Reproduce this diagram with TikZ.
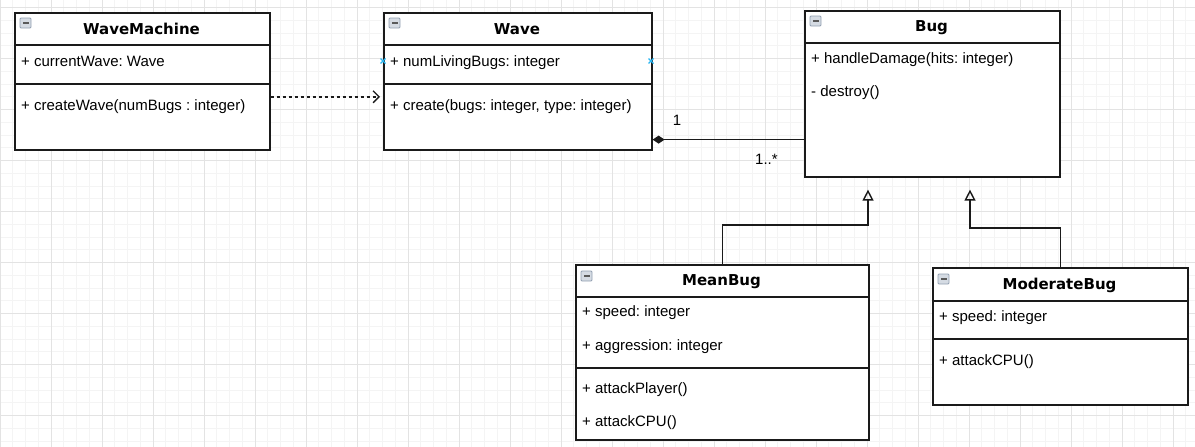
\documentclass[tikz,border=0pt]{standalone}
\usepackage{fontspec}
\setmainfont{Liberation Sans}
\newfontfamily\titlefont{DejaVu Sans}
\usetikzlibrary{arrows.meta}
\definecolor{gridmin}{HTML}{F4F4F4}
\definecolor{gridmaj}{HTML}{E3E3E3}
\definecolor{ink}{HTML}{1A1A1A}
\definecolor{hoverblue}{HTML}{29B6F2}
\definecolor{iconfill}{HTML}{D5DBE3}
\definecolor{iconline}{HTML}{93A0B2}
\definecolor{iconbar}{HTML}{5A5A5A}
\tikzset{
  classbox/.style={draw=ink, line width=1.6pt, fill=white, inner sep=0pt, anchor=north west},
  titletext/.style={font=\titlefont\bfseries\fontsize{15}{18}\selectfont, inner sep=0pt, anchor=base},
  membertext/.style={font=\fontsize{15}{18}\selectfont, inner sep=0pt, anchor=base west},
  sepline/.style={draw=ink, line width=1.6pt},
  conn/.style={draw=ink, line width=1.5pt},
  gridminor/.style={draw=gridmin, line width=1pt},
  gridmajor/.style={draw=gridmaj, line width=1pt},
  hover/.style={draw=hoverblue, line width=1.4pt},
  umlicon/.pic={
    \draw[iconline, fill=iconfill, line width=0.8pt, rounded corners=1pt] (0,0) rectangle (11,10);
    \fill[iconbar] (2.5,4.2) rectangle (8.5,5.9);
  }
}
\begin{document}
\frenchspacing
\begin{tikzpicture}[x=1pt,y=-1pt]
\useasboundingbox (0,0) rectangle (1195,447);
\fill[white] (0,0) rectangle (1195,447);
% grid
\foreach \i in {0,...,93} {\draw[gridminor] (\i*12.75,0) -- (\i*12.75,447);}
\foreach \j in {0,...,34} {\draw[gridminor] (0,7.7+\j*12.75) -- (1195,7.7+\j*12.75);}
\foreach \i in {0,...,23} {\draw[gridmajor] (\i*51,0) -- (\i*51,447);}
\foreach \j in {0,...,8} {\draw[gridmajor] (0,7.7+\j*51) -- (1195,7.7+\j*51);}

% WaveMachine
\node[classbox, minimum width=255pt, minimum height=137pt] (wm) at (14,12) {};
\draw[sepline] (14,45) -- (269,45);
\draw[sepline] (14,84) -- (269,84);
\pic at (20,18) {umlicon};
\node[titletext] (wmtitle) at (141.5,34.3) {WaveMachine};
\node[membertext] (wmattr) at (21,66.5) {+ currentWave: Wave};
\node[membertext] (wmop) at (21,110.5) {+ createWave(numBugs : integer)};

% Wave
\node[classbox, minimum width=268pt, minimum height=137pt] (wave) at (383,12) {};
\draw[sepline] (383,45) -- (651,45);
\draw[sepline] (383,84) -- (651,84);
\pic at (389,18) {umlicon};
\node[titletext] (wavetitle) at (517,34.3) {Wave};
\node[membertext] (waveattr) at (390,66.5) {+ numLivingBugs: integer};
\node[membertext] (waveop) at (390,110.5) {+ create(bugs: integer, type: integer)};
\draw[hover] (380.5,58.5) -- (385.5,63.5) (380.5,63.5) -- (385.5,58.5);
\draw[hover] (648.5,58.5) -- (653.5,63.5) (648.5,63.5) -- (653.5,58.5);

% Bug
\node[classbox, minimum width=255pt, minimum height=166pt] (bug) at (804,10) {};
\draw[sepline] (804,43) -- (1059,43);
\pic at (810,16) {umlicon};
\node[titletext] (bugtitle) at (931.5,31) {Bug};
\node[membertext] (bugop1) at (811,63.5) {+ handleDamage(hits: integer)};
\node[membertext] (bugop2) at (811,96.5) {- destroy()};

% MeanBug
\node[classbox, minimum width=293pt, minimum height=175pt] (mean) at (575,264) {};
\draw[sepline] (575,297) -- (868,297);
\draw[sepline] (575,368) -- (868,368);
\pic at (581,271) {umlicon};
\node[titletext] (meantitle) at (721.5,285.3) {MeanBug};
\node[membertext] (meanattr1) at (582,316.7) {+ speed: integer};
\node[membertext] (meanattr2) at (582,350) {+ aggression: integer};
\node[membertext] (meanop1) at (582,393.3) {+ attackPlayer()};
\node[membertext] (meanop2) at (582,426) {+ attackCPU()};

% ModerateBug
\node[classbox, minimum width=255pt, minimum height=137pt] (mod) at (932,267) {};
\draw[sepline] (932,301) -- (1187,301);
\draw[sepline] (932,339) -- (1187,339);
\pic at (938,274) {umlicon};
\node[titletext] (modtitle) at (1059.5,289.3) {ModerateBug};
\node[membertext] (modattr) at (939,321) {+ speed: integer};
\node[membertext] (modop) at (939,365) {+ attackCPU()};

% dependency (dashed)
\draw[conn, dash pattern=on 3pt off 3pt, -{Straight Barb[length=6pt,width=12pt,line width=1.3pt]}, shorten >=3pt]
  ([yshift=-15.5pt]wm.east) -- ([yshift=-15.5pt]wm.east -| wave.west);

% composition
\draw[conn, {Diamond[length=12pt,width=8pt]}-]
  ([yshift=11pt]wave.south east) -- ([yshift=11pt]wave.south east -| bug.west);
\node[membertext] (mult1) at (672.7,125.7) {1};
\node[membertext] (mult2) at (755,164) {1..*};

% generalizations
\draw[conn, -{Triangle[open, length=11pt, width=11pt, line width=1.4pt]}]
  (mean.north) -- ++(0,-39) -| ([xshift=64pt,yshift=-12pt]bug.south west);
\draw[conn, -{Triangle[open, length=11pt, width=11pt, line width=1.4pt]}]
  (mod.north) -- ++(0,-39) -| ([xshift=166pt,yshift=-12pt]bug.south west);
\end{tikzpicture}
\end{document}
